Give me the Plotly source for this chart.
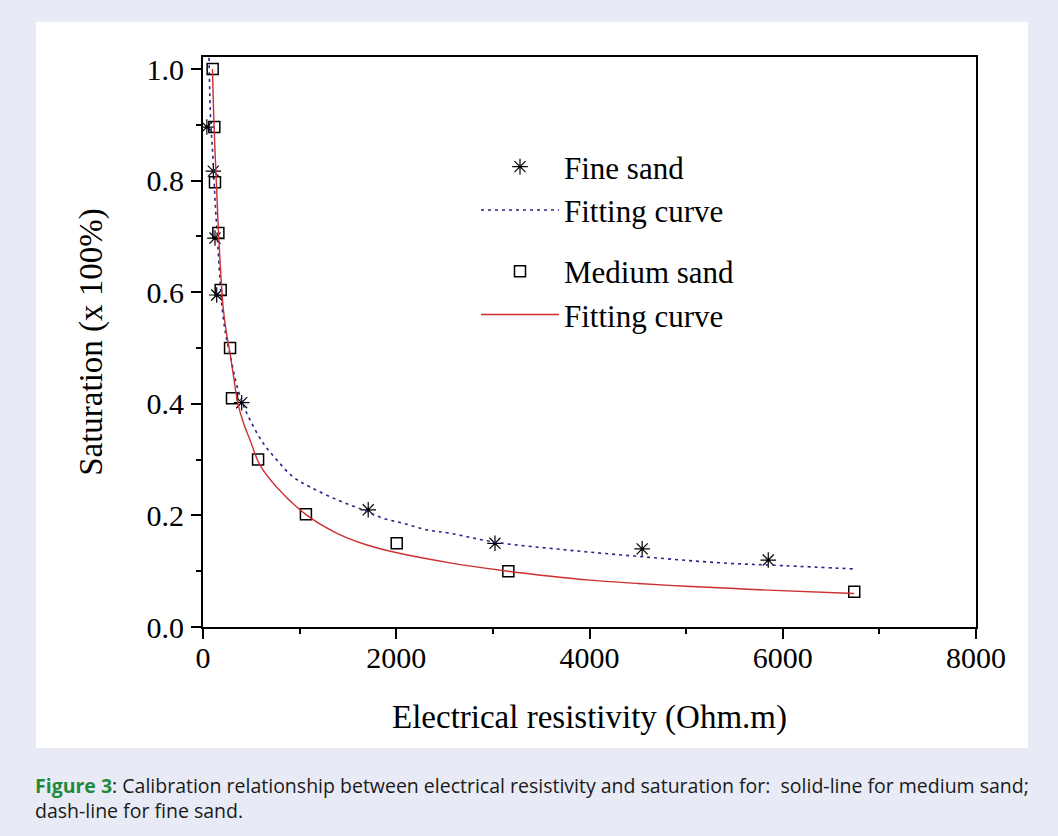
import plotly.graph_objects as go

# ---- data ----
fine_x = [40, 107, 124, 142, 400, 1710, 3022, 4545, 5850]
fine_y = [0.896, 0.817, 0.697, 0.595, 0.402, 0.210, 0.150, 0.140, 0.120]

fine_fit_x = [62, 80, 100, 114, 130, 148, 176, 200, 240, 290, 340, 400, 487, 621, 766,
              932, 1108, 1387, 1656, 1863, 2070, 2319, 2557, 3022, 3768, 4545, 5352, 6000, 6740]
fine_fit_y = [1.02, 0.905, 0.85, 0.80, 0.75, 0.70, 0.622, 0.568, 0.52, 0.48, 0.44, 0.405, 0.371, 0.330, 0.299,
              0.269, 0.251, 0.228, 0.210, 0.195, 0.186, 0.174, 0.168, 0.152, 0.138, 0.126, 0.115, 0.110, 0.104]

med_x = [100, 117, 124, 159, 183, 280, 300, 570, 1065, 2005, 3160, 6740]
med_y = [1.0, 0.896, 0.797, 0.706, 0.604, 0.50, 0.41, 0.30, 0.202, 0.150, 0.100, 0.063]

med_fit_x = [98, 110, 125, 140, 162, 185, 210, 240, 280, 320, 362, 420, 487, 590, 766, 1077,
             1387, 1698, 2008, 2557, 3157, 3600, 4006, 4500, 5000, 5500, 5849, 6740]
med_fit_y = [1.00, 0.92, 0.85, 0.79, 0.70, 0.63, 0.57, 0.53, 0.49, 0.445, 0.40, 0.365, 0.335, 0.290, 0.250, 0.200,
             0.168, 0.147, 0.133, 0.115, 0.100, 0.091, 0.084, 0.078, 0.073, 0.069, 0.066, 0.060]

x_ticks = [0, 2000, 4000, 6000, 8000]
y_ticks = [0.0, 0.2, 0.4, 0.6, 0.8, 1.0]

caption_html = ('<b><span style="color:#1f8a3c">Figure 3</span></b>: Calibration relationship between '
                'electrical resistivity and saturation for:  solid-line for medium sand;<br>'
                'dash-line for fine sand.')

SERIF = "Liberation Serif, Times New Roman, serif"
BLUE = "#26268c"
RED = "#cc2f2f"
BG = "#e8ebf5"

fig = go.Figure()
fig.add_trace(go.Scatter(x=fine_x, y=fine_y, mode="markers", name="Fine sand",
                         legendgroup="g1",
                         marker=dict(symbol="asterisk-open", size=13, color="black",
                                     line=dict(color="black", width=1.2))))
fig.add_trace(go.Scatter(x=fine_fit_x, y=fine_fit_y, mode="lines", name="Fitting curve",
                         legendgroup="g1", line_shape="spline",
                         line=dict(color=BLUE, width=1.6, dash="3px,4px")))
fig.add_trace(go.Scatter(x=med_x, y=med_y, mode="markers", name="Medium sand",
                         legendgroup="g2",
                         marker=dict(symbol="square-open", size=11, color="black",
                                     line=dict(color="black", width=1.5))))
fig.add_trace(go.Scatter(x=med_fit_x, y=med_fit_y, mode="lines", name="Fitting curve",
                         legendgroup="g2", line_shape="spline",
                         line=dict(color=RED, width=1.4)))

# plot area: x 203..976, y 57..627
L, R, T, B = 203, 976, 57, 627
W, H = 1058, 836
pw, ph = R - L, B - T

def px(xp):
    return (xp - L) / pw

def py(yp):
    return (B - yp) / ph

fig.add_shape(type="rect", xref="paper", yref="paper",
              x0=px(36), x1=px(1028), y0=py(748), y1=py(22),
              fillcolor="white", line=dict(width=0), layer="below")

fig.add_annotation(xref="paper", yref="paper", x=px(33), y=py(770),
                   xanchor="left", yanchor="top", align="left", showarrow=False,
                   text=caption_html,
                   font=dict(family="Open Sans, sans-serif", size=19.5, color="#1a1a1a"))

fig.update_layout(
    width=W, height=H,
    margin=dict(l=L, r=W - R, t=T, b=H - B),
    paper_bgcolor=BG,
    plot_bgcolor="white",
    font=dict(family=SERIF, color="black"),
    showlegend=True,
    legend=dict(x=px(476), y=py(140), xanchor="left", yanchor="top",
                bgcolor="rgba(0,0,0,0)", borderwidth=0,
                font=dict(family=SERIF, size=31, color="black"),
                traceorder="grouped", tracegroupgap=18, itemwidth=78),
)

fig.update_xaxes(range=[0, 8000], tickvals=x_ticks, ticktext=[str(v) for v in x_ticks],
                 ticks="outside", ticklen=10, tickwidth=2, tickcolor="black",
                 ticklabelstandoff=-7,
                 minor=dict(dtick=1000, ticks="outside", ticklen=5, tickwidth=2, tickcolor="black"),
                 showline=True, linewidth=2, linecolor="black", mirror=True,
                 showgrid=False, zeroline=False,
                 tickfont=dict(family=SERIF, size=30, color="black"),
                 title=dict(text="Electrical resistivity (Ohm.m)", standoff=32,
                            font=dict(family=SERIF, size=33, color="black")))
fig.update_yaxes(range=[0, 1.0215], tickvals=y_ticks, ticktext=[f"{v:.1f}" for v in y_ticks],
                 ticks="outside", ticklen=10, tickwidth=2, tickcolor="black",
                 ticklabelstandoff=1,
                 minor=dict(dtick=0.1, ticks="outside", ticklen=5, tickwidth=2, tickcolor="black"),
                 showline=True, linewidth=2, linecolor="black", mirror=True,
                 showgrid=False, zeroline=False,
                 tickfont=dict(family=SERIF, size=30, color="black"),
                 title=dict(text="Saturation (x 100%)", standoff=34,
                            font=dict(family=SERIF, size=33, color="black")))

fig.write_html("out.html",
               config={"displayModeBar": False},
               post_script="document.body.style.margin='0';"
                           "document.body.style.background='" + BG + "';")
